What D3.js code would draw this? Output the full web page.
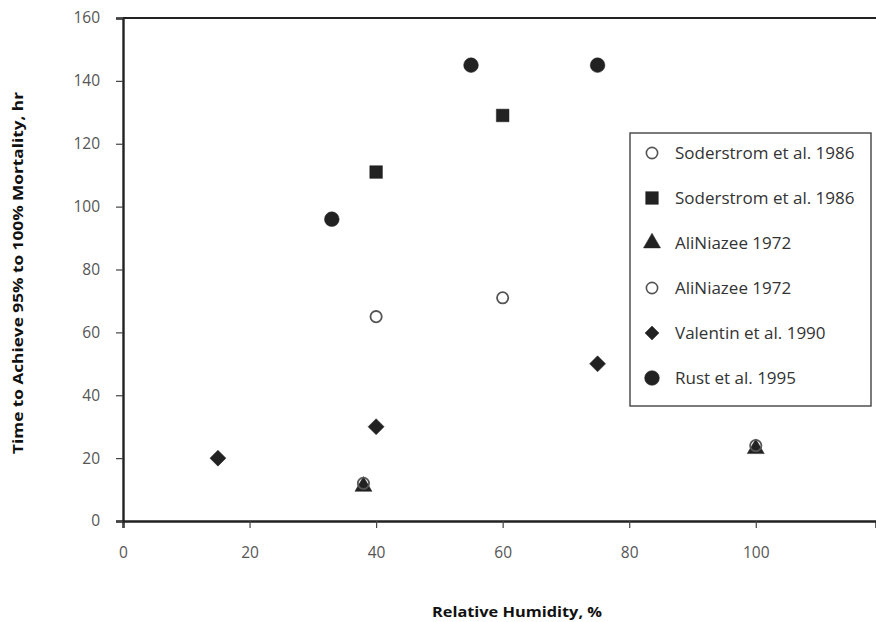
<!DOCTYPE html>
<html><head><meta charset="utf-8">
<script src="https://cdn.jsdelivr.net/npm/d3@7"></script>
<style>body{margin:0;background:#fff;} text{font-family:"Open Sans",sans-serif;}</style>
</head><body><svg id="c" width="876" height="622"></svg>
<script>
const xTicks = [0, 20, 40, 60, 80, 100];
const yTicks = [0, 20, 40, 60, 80, 100, 120, 140, 160];
const soderstromOpen = [[40, 65], [60, 71]];
const soderstromSquare = [[40, 111], [60, 129]];
const aliTriangle = [[38, 11], [100, 23]];
const aliOpen = [[38, 12], [100, 24]];
const valentin = [[15, 20], [40, 30], [75, 50]];
const rust = [[33, 96], [55, 145], [75, 145]];
const legendLabels = ["Soderstrom et al. 1986", "Soderstrom et al. 1986", "AliNiazee 1972", "AliNiazee 1972", "Valentin et al. 1990", "Rust et al. 1995"];

const svg = d3.select("#c");
const x = d3.scaleLinear().domain([0, 119]).range([123, 876]);
const y = d3.scaleLinear().domain([0, 160]).range([521, 18]);
const ink = "#222";

svg.append("line").attr("x1", 123).attr("x2", 876).attr("y1", y(160)).attr("y2", y(160)).attr("stroke", ink).attr("stroke-width", 2.2);

const xa = svg.append("g").attr("transform", `translate(0,${y(0)})`).call(d3.axisBottom(x).tickValues(xTicks).tickSize(7).tickPadding(19));
const ya = svg.append("g").attr("transform", `translate(${x(0)},0)`).call(d3.axisLeft(y).tickValues(yTicks).tickSize(7).tickPadding(16));
[xa, ya].forEach(a => {
  a.select(".domain").attr("stroke", ink).attr("stroke-width", 2.4);
  a.selectAll(".tick line").attr("stroke", "#444").attr("stroke-width", 1.2);
  a.selectAll(".tick text").attr("fill", "#555").style("font-size", "15.5px").style("font-family", "Open Sans, sans-serif");
});

svg.append("text").attr("x", 517).attr("y", 617).attr("text-anchor", "middle").attr("font-weight", "bold").attr("font-size", 14)
  .attr("textLength", 170).attr("lengthAdjust", "spacingAndGlyphs").attr("fill", "#111").text("Relative Humidity, %");
svg.append("text").attr("transform", "translate(23,273) rotate(-90)").attr("text-anchor", "middle").attr("font-weight", "bold").attr("font-size", 14)
  .attr("textLength", 362).attr("lengthAdjust", "spacingAndGlyphs").attr("fill", "#111").text("Time to Achieve 95% to 100% Mortality, hr");

function diamondPath(r) { return `M0,${-r}L${r},0L0,${r}L${-r},0Z`; }
const sym = {
  open: () => d3.symbol().type(d3.symbolCircle).size(100)(),
  square: () => d3.symbol().type(d3.symbolSquare).size(160)(),
  triangle: () => d3.symbol().type(d3.symbolTriangle).size(125)(),
  diamond: () => diamondPath(8),
  circle: () => d3.symbol().type(d3.symbolCircle).size(170)()
};
function draw(data, kind) {
  const filled = kind !== "open";
  svg.append("g").selectAll("path").data(data).join("path")
    .attr("transform", d => `translate(${x(d[0])},${y(d[1])})`)
    .attr("d", sym[kind]())
    .attr("fill", filled ? ink : "none")
    .attr("stroke", filled ? ink : "#555")
    .attr("stroke-width", filled ? 0.5 : 1.8);
}
draw(aliTriangle, "triangle");
draw(aliOpen, "open");
draw(soderstromOpen, "open");
draw(soderstromSquare, "square");
draw(valentin, "diamond");
draw(rust, "circle");

const kinds = ["open", "square", "triangle", "open", "diamond", "circle"];
const lg = svg.append("g");
lg.append("rect").attr("x", 630).attr("y", 133).attr("width", 241).attr("height", 273).attr("fill", "#fff").attr("stroke", "#444").attr("stroke-width", 1.4);
legendLabels.forEach((t, i) => {
  const cy = 153 + i * 45;
  const k = kinds[i];
  lg.append("path").attr("transform", `translate(652,${cy})`).attr("d", k === "diamond" ? diamondPath(7) : sym[k]())
    .attr("fill", k === "open" ? "none" : ink).attr("stroke", k === "open" ? "#555" : ink).attr("stroke-width", k === "open" ? 1.6 : 0.5);
  lg.append("text").attr("x", 675).attr("y", cy + 6).attr("font-size", 17).attr("fill", "#333").text(t);
});
</script></body></html>
